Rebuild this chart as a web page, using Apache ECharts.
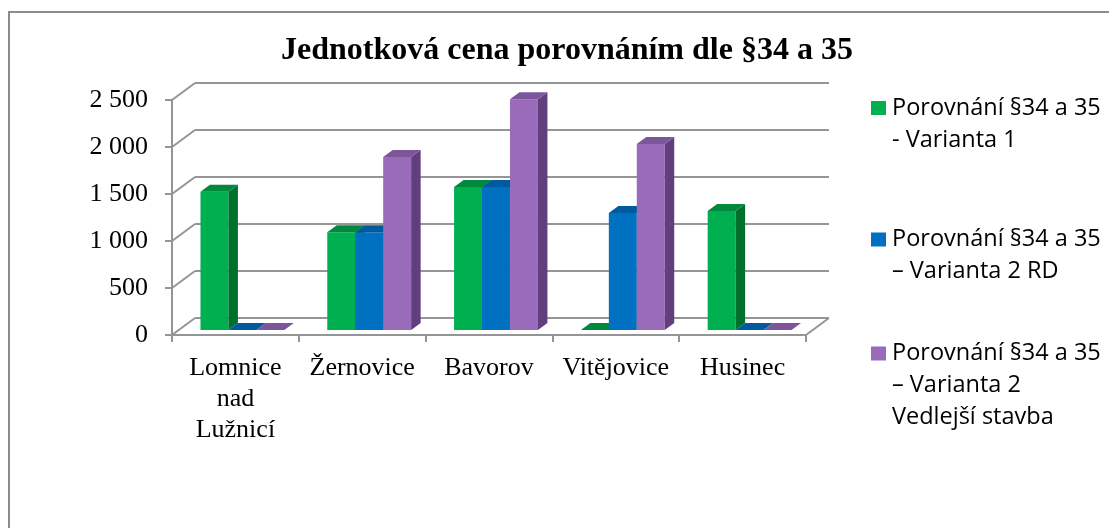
<!DOCTYPE html>
<html>
<head>
<meta charset="utf-8">
<script src="https://cdn.jsdelivr.net/npm/echarts@6/dist/echarts.min.js"></script>
<style>
  html, body { margin: 0; padding: 0; background: #fff; }
  #main { width: 1109px; height: 528px; }
</style>
</head>
<body>
<div id="main"></div>
<script type="text/javascript">
    // data
    var categories = ['Lomnice nad Lužnicí', 'Žernovice', 'Bavorov', 'Vitějovice', 'Husinec'];
    var seriesNames = [
        'Porovnání §34 a 35 - Varianta 1',
        'Porovnání §34 a 35 – Varianta 2 RD',
        'Porovnání §34 a 35 – Varianta 2 Vedlejší stavba'
    ];
    var legendLines = [
        ['Porovnání §34 a 35', '- Varianta 1'],
        ['Porovnání §34 a 35', '– Varianta 2 RD'],
        ['Porovnání §34 a 35', '– Varianta 2', 'Vedlejší stavba']
    ];
    var variant1 = [1470, 1040, 1520, 0, 1265];
    var variant2RD = [0, 1040, 1520, 1245, 0];
    var variant2VS = [0, 1840, 2455, 1980, 0];
    var yTicks = [0, 500, 1000, 1500, 2000, 2500];

    // face colours: front, side, top
    var palette = [
        ['#00b050', '#00702f', '#00893c'],
        ['#0070c0', '#004e8a', '#005a9e'],
        ['#9b6bbb', '#613f7c', '#7b569a']
    ];

    var myChart = echarts.init(document.getElementById('main'));

    var WALL_DX = 23, WALL_DY = -17;   // floor / wall depth
    var BAR_OX = 7, BAR_OY = -5;       // bar front plane offset
    var BAR_DX = 9.5, BAR_DY = -7;     // bar depth
    var GRID_COLOR = '#959595';

    function thousands(v) {
        return String(v).replace(/\B(?=(\d{3})+(?!\d))/g, ' ');
    }

    function barItem(idx) {
        return function (params, api) {
            var cat = api.value(0);
            var base = api.coord([cat, 0]);
            var top = api.coord([cat, api.value(1)]);
            var w = api.size([1, 0])[0] * 28 / 127;
            var x0 = base[0] + BAR_OX + (idx - 1.5) * w;
            var x1 = x0 + w;
            var yb = base[1] + BAR_OY;
            var yt = top[1] + BAR_OY;
            var c = palette[idx];
            var kids = [];
            if (yb - yt > 0.5) {
                kids.push({
                    type: 'rect',
                    shape: { x: x0, y: yt, width: w, height: yb - yt },
                    style: { fill: c[0] }
                });
                kids.push({
                    type: 'polygon',
                    shape: { points: [[x1, yb], [x1 + BAR_DX, yb + BAR_DY], [x1 + BAR_DX, yt + BAR_DY], [x1, yt]] },
                    style: { fill: c[1] }
                });
            }
            kids.push({
                type: 'polygon',
                shape: { points: [[x0, yt], [x1, yt], [x1 + BAR_DX, yt + BAR_DY], [x0 + BAR_DX, yt + BAR_DY]] },
                style: { fill: c[2] }
            });
            return { type: 'group', children: kids };
        };
    }

    function toPairs(arr) {
        return arr.map(function (v, i) { return [i, v]; });
    }

    var barSeries = [variant1, variant2RD, variant2VS].map(function (arr, idx) {
        return {
            name: seriesNames[idx],
            type: 'custom',
            xAxisIndex: 0,
            yAxisIndex: 0,
            renderItem: barItem(idx),
            encode: { x: 0, y: 1 },
            data: toPairs(arr),
            clip: false,
            z: 5,
            itemStyle: { color: palette[idx][0] }
        };
    });

    // left wall diagonals + right floor edge
    var frameSeries = {
        type: 'custom',
        xAxisIndex: 0,
        yAxisIndex: 0,
        silent: true,
        clip: false,
        z: 2,
        encode: { x: 0, y: 1 },
        data: yTicks.map(function (v) { return [0, v]; }),
        renderItem: function (params, api) {
            var cs = params.coordSys;
            var y = api.coord([0, api.value(1)])[1];
            var st = { stroke: GRID_COLOR, lineWidth: 2 };
            var kids = [{
                type: 'line',
                shape: { x1: cs.x, y1: y, x2: cs.x + WALL_DX, y2: y + WALL_DY },
                style: st
            }];
            if (api.value(1) === 0) {
                kids.push({
                    type: 'line',
                    shape: { x1: cs.x + cs.width, y1: y, x2: cs.x + cs.width + WALL_DX, y2: y + WALL_DY },
                    style: st
                });
            }
            return { type: 'group', children: kids };
        }
    };

    // blank lines in front keep the icon level with the first text line
    var legends = legendLines.map(function (lines, idx) {
        var lh = 32;
        var centers = [108, 239.5, 353.5];
        var pad = [];
        for (var i = 1; i < lines.length; i++) pad.push(' ');
        return {
            data: [seriesNames[idx]],
            left: 871,
            top: centers[idx] - (2 * lines.length - 1) * lh / 2,
            orient: 'vertical',
            padding: 0,
            icon: 'rect',
            itemWidth: 15,
            itemHeight: 14,
            selectedMode: false,
            formatter: function () { return pad.concat(lines).join('\n'); },
            textStyle: {
                fontFamily: 'Open Sans',
                fontSize: 23.5,
                lineHeight: lh,
                color: '#000',
                padding: [0, 0, 0, 1]
            }
        };
    });

    var option = {
        animation: false,
        backgroundColor: '#fff',
        title: {
            text: 'Jednotková cena porovnáním dle §34 a 35',
            left: 281,
            top: 35,
            padding: 0,
            textStyle: {
                fontFamily: 'Liberation Serif',
                fontWeight: 'bold',
                fontSize: 32,
                color: '#000'
            }
        },
        legend: legends,
        graphic: [{
            type: 'rect',
            shape: { x: 9, y: 12, width: 1200, height: 600 },
            style: { fill: null, stroke: '#8c8c8c', lineWidth: 2 },
            silent: true
        }],
        grid: [
            { left: 172, right: 303, top: 100, bottom: 193 },
            { left: 195, right: 280, top: 83, bottom: 210 }
        ],
        xAxis: [{
            type: 'category',
            gridIndex: 0,
            data: categories,
            axisLine: { lineStyle: { color: GRID_COLOR, width: 2 } },
            axisTick: { show: true, length: 7, lineStyle: { color: GRID_COLOR, width: 2 } },
            axisLabel: {
                interval: 0,
                margin: 18,
                fontFamily: 'Liberation Serif',
                fontSize: 26,
                lineHeight: 31,
                color: '#000',
                formatter: function (v) { return v.split(' ').join('\n'); }
            },
            splitLine: { show: false }
        }, {
            type: 'category',
            gridIndex: 1,
            data: categories,
            show: false
        }],
        yAxis: [{
            type: 'value',
            gridIndex: 0,
            min: 0,
            max: 2500,
            interval: 500,
            axisLine: { show: true, lineStyle: { color: GRID_COLOR, width: 2 } },
            axisTick: { show: true, length: 7, lineStyle: { color: GRID_COLOR, width: 2 } },
            axisLabel: {
                margin: 24,
                fontFamily: 'Liberation Serif',
                fontSize: 26,
                color: '#000',
                formatter: thousands
            },
            splitLine: { show: false }
        }, {
            type: 'value',
            gridIndex: 1,
            min: 0,
            max: 2500,
            interval: 500,
            axisLine: { show: false },
            axisTick: { show: false },
            axisLabel: { show: false },
            splitLine: { show: true, lineStyle: { color: GRID_COLOR, width: 2 } }
        }],
        series: [frameSeries].concat(barSeries)
    };
    myChart.setOption(option);
</script>
</body>
</html>
